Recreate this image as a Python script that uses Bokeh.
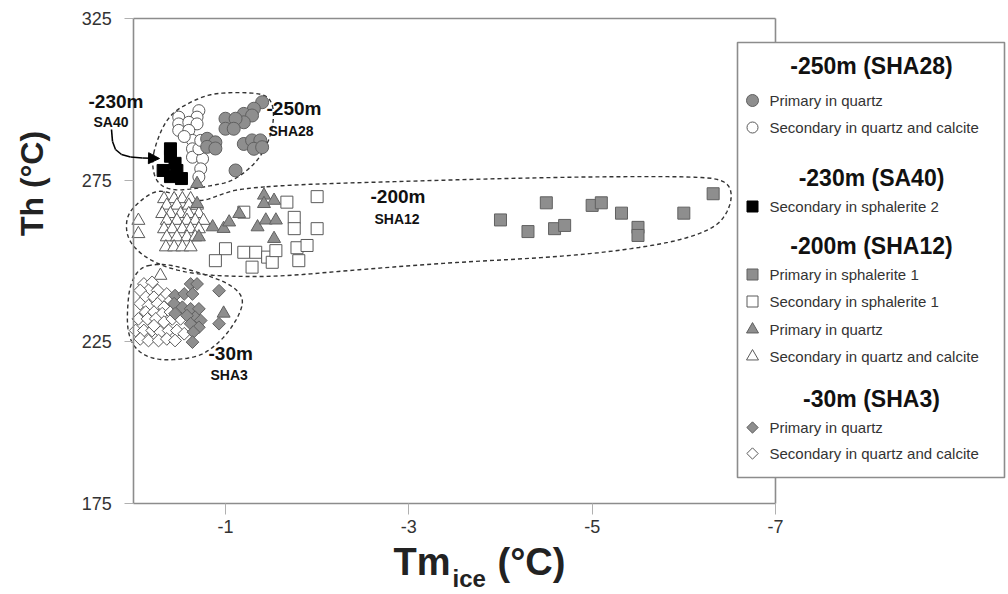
import math
from bokeh.plotting import figure
from bokeh.models import Range1d, FixedTicker, LinearAxis, Label, Arrow, NormalHead
from bokeh.embed import file_html
from bokeh.resources import INLINE

# ---------------- data ----------------
# -250m (SHA28)
SHA28_PRIM_X = [-1.40, -1.31, -1.20, -1.29, -1.20, -1.00, -1.11, -1.00, -1.09, -0.80,
                -0.89, -0.80, -0.89, -1.20, -1.29, -1.38, -1.31, -1.40, -1.11]
SHA28_PRIM_Y = [299.1, 297.1, 295.5, 295.0, 292.9, 294.0, 294.0, 290.9, 290.9, 287.8,
                286.7, 285.3, 284.8, 286.2, 287.3, 287.3, 284.7, 285.2, 278.0]
SHA28_SEC_X = [-0.71, -0.69, -0.49, -0.49, -0.60, -0.69, -0.49, -0.60, -0.64, -0.64,
               -0.64, -0.75, -0.73, -0.71, -0.73, -0.55, -0.71]
SHA28_SEC_Y = [296.5, 294.5, 294.5, 292.4, 292.9, 292.4, 290.4, 290.4, 287.3, 284.7,
               282.1, 281.6, 278.5, 284.7, 287.3, 288.5, 276.0]
# -230m (SA40)
SA40_SEC_X = [-0.40, -0.40, -0.45, -0.32, -0.47, -0.52, -0.40]
SA40_SEC_Y = [284.7, 282.4, 280.2, 278.0, 278.0, 275.5, 276.1]
# -200m (SHA12)
SHA12_PSPH_X = [-4.00, -4.30, -4.50, -4.59, -4.70, -5.00, -5.10, -5.32, -5.50, -5.50, -6.00, -6.32]
SHA12_PSPH_Y = [262.7, 259.1, 268.0, 260.0, 261.0, 267.2, 268.0, 264.8, 260.4, 257.9, 264.8, 270.8]
SHA12_SSPH_X = [-2.00, -1.67, -1.20, -1.75, -1.75, -2.00, -1.00, -1.20, -1.33, -1.46,
                -1.51, -0.89, -1.29, -1.78, -1.89, -1.80, -1.55]
SHA12_SSPH_Y = [269.9, 268.2, 265.1, 263.5, 260.0, 260.0, 253.8, 252.7, 252.7, 251.2,
                249.6, 250.1, 248.1, 254.1, 254.8, 250.1, 253.2]
SHA12_PQ_X = [-0.69, -0.69, -0.71, -0.86, -0.98, -1.04, -1.15, -1.35, -1.44, -1.55,
              -1.42, -1.53, -1.42, -1.53, -0.98]
SHA12_PQ_Y = [273.9, 267.7, 257.4, 260.5, 260.0, 262.0, 264.6, 260.5, 262.6, 262.6,
              270.3, 268.7, 267.7, 256.9, 233.8]
SHA12_SQ_X = [-0.05, -0.05,
              -0.33, -0.44, -0.53, -0.62,
              -0.36, -0.47, -0.60, -0.69,
              -0.31, -0.40, -0.51, -0.60, -0.71,
              -0.36, -0.47, -0.58, -0.67, -0.76,
              -0.33, -0.42, -0.53, -0.62, -0.71,
              -0.36, -0.47, -0.58, -0.67,
              -0.35, -0.44, -0.53, -0.62,
              -0.29]
SHA12_SQ_Y = [262.5, 258.4,
              269.2, 269.2, 269.2, 269.2,
              267.2, 267.2, 267.2, 267.2,
              264.6, 264.6, 264.6, 264.6, 264.6,
              262.5, 262.5, 262.5, 262.5, 262.5,
              259.9, 259.9, 259.9, 259.9, 259.9,
              257.4, 257.4, 257.4, 257.4,
              254.3, 254.3, 254.3, 254.3,
              245.5]
# -30m (SHA3)
SHA3_PRIM_X = [-0.62, -0.69, -0.93, -0.45, -0.55, -0.64, -0.44, -0.53, -0.62, -0.71,
               -0.67, -0.73, -0.45, -0.58, -0.62, -0.71, -0.65, -0.64, -0.93]
SHA3_PRIM_Y = [242.9, 242.9, 240.8, 239.3, 239.8, 239.8, 236.8, 235.7, 235.2, 235.2,
               232.6, 231.6, 233.7, 233.1, 230.6, 229.5, 228.0, 224.9, 230.6]
SHA3_SEC_X = [-0.11, -0.20, -0.16, -0.07, -0.26, -0.13, -0.22, -0.31, -0.36, -0.07,
              -0.16, -0.26, -0.33, -0.40, -0.13, -0.22, -0.31, -0.40, -0.49, -0.05,
              -0.15, -0.24, -0.33, -0.42, -0.51, -0.02, -0.11, -0.20, -0.29, -0.38,
              -0.47, -0.07, -0.16, -0.27, -0.36, -0.45, -0.22, -0.55]
SHA3_SEC_Y = [242.9, 243.4, 240.9, 240.9, 240.9, 238.8, 238.8, 238.3, 239.8, 236.8,
              236.2, 236.8, 235.7, 237.8, 234.2, 234.2, 233.7, 234.2, 235.2, 232.1,
              232.1, 232.1, 231.1, 232.1, 232.1, 228.5, 228.5, 228.5, 228.0, 228.5,
              228.5, 225.9, 225.4, 225.4, 225.9, 225.4, 230.0, 227.5]

X_TICKS = [-1, -3, -5, -7]
Y_TICKS = [175, 225, 275, 325]
X_BOUNDS = (-7, 0)
Y_BOUNDS = (175, 325)

# hand-drawn dashed envelopes (data units)
ENV_SHA28_X = [-0.20, -0.24, -0.33, -0.45, -0.65, -0.84, -1.13, -1.42, -1.51, -1.53,
               -1.49, -1.38, -1.24, -1.05, -0.84, -0.65, -0.44, -0.29, -0.22]
ENV_SHA28_Y = [281.1, 286.2, 292.4, 296.5, 299.6, 301.7, 302.2, 301.7, 299.1, 294.5,
               288.3, 282.1, 278.0, 274.4, 273.3, 272.3, 271.8, 273.3, 276.4]
ENV_SHA12_X = [-1.16, -1.82, -2.91, -4.00, -5.09, -6.18, -6.45, -6.53, -6.49, -6.35,
               -5.96, -5.31, -4.54, -3.45, -2.36, -1.60, -1.05, -0.62, -0.29, -0.05,
               0.08, 0.08, -0.07, -0.24, -0.40, -0.62, -0.78, -0.95]
ENV_SHA12_Y = [272.4, 273.7, 274.6, 275.5, 276.1, 276.1, 274.9, 271.2, 265.6, 260.4,
               256.3, 253.2, 251.1, 249.5, 247.1, 245.2, 245.2, 246.1, 248.6, 252.6,
               257.6, 264.1, 268.7, 271.8, 271.2, 268.7, 268.7, 270.6]
ENV_SHA3_X = [-0.07, -0.26, -0.44, -0.76, -1.05, -1.20, -1.16, -1.02, -0.87, -0.69,
              -0.36, -0.15, 0.0, 0.07, 0.07, 0.04]
ENV_SHA3_Y = [248.1, 249.1, 248.6, 246.0, 242.9, 238.8, 233.7, 227.5, 223.3, 220.2,
              219.2, 220.2, 223.3, 228.5, 235.7, 242.9]

# ---------------- layout helpers (picture pixels -> data units) ----------------
W, H = 1006, 592

def sx(px):
    return -(px - 133.3) / 91.67

def sy(py):
    return 325 - (py - 18) / 3.2333

def chaikin(xs, ys, n=3):
    pts = list(zip(xs, ys))
    for _ in range(n):
        new = []
        for i in range(len(pts)):
            a = pts[i]
            b = pts[(i + 1) % len(pts)]
            new.append((0.75 * a[0] + 0.25 * b[0], 0.75 * a[1] + 0.25 * b[1]))
            new.append((0.25 * a[0] + 0.75 * b[0], 0.25 * a[1] + 0.75 * b[1]))
        pts = new
    pts.append(pts[0])
    return [q[0] for q in pts], [q[1] for q in pts]

FONT = "Liberation Sans"
GRAY_FILL = "#8e8e8e"
GRAY_LINE = "#606060"
WHITE_LINE = "#5a5a5a"
AXIS_COLOR = "#8c8c8c"

p = figure(width=W, height=H, output_backend="svg", toolbar_location=None,
           x_range=Range1d(sx(0), sx(W)), y_range=Range1d(sy(H), sy(0)),
           x_axis_location=None, y_axis_location=None, min_border=0)
p.outline_line_color = None
p.xgrid.visible = False
p.ygrid.visible = False
p.background_fill_color = "white"

def style_axis(ax):
    ax.axis_line_color = AXIS_COLOR
    ax.axis_line_width = 1.6
    ax.major_tick_line_color = "#b0b0b0"
    ax.major_tick_in = 0
    ax.minor_tick_line_color = None
    ax.major_label_text_font = FONT
    ax.major_label_text_font_size = "18px"
    ax.major_label_text_color = "#333333"

xaxis = LinearAxis(fixed_location=Y_BOUNDS[0], bounds=X_BOUNDS, ticker=FixedTicker(ticks=X_TICKS),
                   major_label_overrides={t: str(t) for t in X_TICKS})
style_axis(xaxis)
xaxis.major_tick_out = 11
xaxis.major_label_standoff = 6
p.add_layout(xaxis, "below")

yaxis = LinearAxis(fixed_location=X_BOUNDS[1], bounds=Y_BOUNDS, ticker=FixedTicker(ticks=Y_TICKS),
                   major_label_overrides={t: str(t) for t in Y_TICKS})
style_axis(yaxis)
yaxis.major_tick_out = 9
yaxis.major_label_standoff = 13
p.add_layout(yaxis, "left")

top_axis = LinearAxis(fixed_location=Y_BOUNDS[1], bounds=X_BOUNDS, ticker=FixedTicker(ticks=[]),
                      major_label_text_font_size="0px", major_tick_out=0, major_tick_in=0,
                      minor_tick_out=0, minor_tick_in=0,
                      axis_line_color=AXIS_COLOR, axis_line_width=1.6)
p.add_layout(top_axis, "above")

# right frame edge at x = -7
p.segment(x0=[X_BOUNDS[0]], y0=[Y_BOUNDS[0]], x1=[X_BOUNDS[0]], y1=[Y_BOUNDS[1]],
          line_color=AXIS_COLOR, line_width=1.6)

# envelopes
for ex, ey in ((ENV_SHA28_X, ENV_SHA28_Y), (ENV_SHA12_X, ENV_SHA12_Y), (ENV_SHA3_X, ENV_SHA3_Y)):
    cx, cy = chaikin(ex, ey)
    p.line(cx, cy, line_color="#333333", line_width=1.4, line_dash="4 3")

# markers
DIAMOND_ANGLE = math.pi / 4
styles = {
    "c_gray": dict(marker="circle", size=13, fill_color=GRAY_FILL, line_color=GRAY_LINE),
    "c_white": dict(marker="circle", size=12, fill_color="white", line_color=WHITE_LINE),
    "s_black": dict(marker="square", size=12, fill_color="black", line_color="black"),
    "s_gray": dict(marker="square", size=12, fill_color=GRAY_FILL, line_color=GRAY_LINE),
    "s_white": dict(marker="square", size=12, fill_color="white", line_color=WHITE_LINE),
    "t_gray": dict(marker="triangle", size=13, fill_color=GRAY_FILL, line_color=GRAY_LINE),
    "t_white": dict(marker="triangle", size=13, fill_color="white", line_color=WHITE_LINE),
    "d_gray": dict(marker="square", size=9, angle=DIAMOND_ANGLE, fill_color=GRAY_FILL, line_color=GRAY_LINE),
    "d_white": dict(marker="square", size=9, angle=DIAMOND_ANGLE, fill_color="white", line_color=WHITE_LINE),
}

p.scatter(SHA28_SEC_X, SHA28_SEC_Y, line_width=1, **styles["c_white"])
p.scatter(SHA28_PRIM_X, SHA28_PRIM_Y, line_width=1, **styles["c_gray"])
p.scatter(SHA12_SQ_X, SHA12_SQ_Y, line_width=1, **styles["t_white"])
p.scatter(SHA12_SSPH_X, SHA12_SSPH_Y, line_width=1, **styles["s_white"])
p.scatter(SHA12_PQ_X, SHA12_PQ_Y, line_width=1, **styles["t_gray"])
p.scatter(SHA12_PSPH_X, SHA12_PSPH_Y, line_width=1, **styles["s_gray"])
p.scatter(SHA3_SEC_X, SHA3_SEC_Y, line_width=1, **styles["d_white"])
p.scatter(SHA3_PRIM_X, SHA3_PRIM_Y, line_width=1, **styles["d_gray"])
p.scatter(SA40_SEC_X, SA40_SEC_Y, line_width=1, **styles["s_black"])

# in-plot annotations
def add_label(text, px, py, size, align="left", bold=True, color="#111111", angle=0.0,
              baseline="middle", font=FONT):
    p.add_layout(Label(x=sx(px), y=sy(py), text=text, text_font=font,
                       text_font_size=size, text_font_style="bold" if bold else "normal",
                       text_align=align, text_baseline=baseline, text_color=color, angle=angle))

add_label("-230m", 88, 101, "19px")
add_label("SA40", 93, 121, "14px")
add_label("-250m", 266, 108, "19px")
add_label("SHA28", 268, 130, "14px")
add_label("-200m", 370, 196, "19px")
add_label("SHA12", 374, 218, "14px")
add_label("-30m", 208, 353, "19px")
add_label("SHA3", 210, 374, "14px")

# curved arrow from SA40 label to the black squares
ARROW_PX = [(111, 129), (112, 141), (115, 149), (121, 154), (130, 156.5), (142, 157.5), (159, 158)]
for i in range(len(ARROW_PX) - 1):
    (ax0, ay0), (ax1, ay1) = ARROW_PX[i], ARROW_PX[i + 1]
    last = i == len(ARROW_PX) - 2
    p.add_layout(Arrow(x_start=sx(ax0), y_start=sy(ay0), x_end=sx(ax1), y_end=sy(ay1),
                       line_color="black", line_width=1.6,
                       end=NormalHead(size=11, fill_color="black", line_color="black") if last else None))

# axis titles
add_label("Th (°C)", 31, 183, "32px", align="center", color="#222222", angle=math.pi / 2)
add_label("Tm", 393, 561, "38px", color="#222222")
add_label("ice", 452, 578, "24px", color="#222222")
add_label("(°C)", 497, 561, "38px", color="#222222")

# legend box
p.quad(left=[sx(737)], right=[sx(1004)], top=[sy(42)], bottom=[sy(477)],
       fill_color="white", line_color=AXIS_COLOR, line_width=1.6)

LEG_MARKER_PX = 752
LEG_TEXT_PX = 769
LEG_CENTER_PX = 871
legend_rows = [
    ("head", "-250m (SHA28)", 65, None),
    ("item", "Primary in quartz", 100, "c_gray"),
    ("item", "Secondary in quartz and calcite", 127, "c_white"),
    ("head", "-230m (SA40)", 177, None),
    ("item", "Secondary in sphalerite 2", 206, "s_black"),
    ("head", "-200m (SHA12)", 245, None),
    ("item", "Primary in sphalerite 1", 274, "s_gray"),
    ("item", "Secondary in sphalerite 1", 301, "s_white"),
    ("item", "Primary in quartz", 329, "t_gray"),
    ("item", "Secondary in quartz and calcite", 356, "t_white"),
    ("head", "-30m (SHA3)", 398, None),
    ("item", "Primary in quartz", 427, "d_gray"),
    ("item", "Secondary in quartz and calcite", 453, "d_white"),
]
for kind, text, py, sty in legend_rows:
    if kind == "head":
        add_label(text, LEG_CENTER_PX, py, "23px", align="center", color="#111111")
    else:
        st = dict(styles[sty])
        st["size"] = st["size"] - 1
        p.scatter([sx(LEG_MARKER_PX)], [sy(py)], line_width=1, **st)
        add_label(text, LEG_TEXT_PX, py, "15px", bold=False, color="#333333")

open("out.html", "w").write(file_html(p, INLINE, "Th vs Tm_ice"))
